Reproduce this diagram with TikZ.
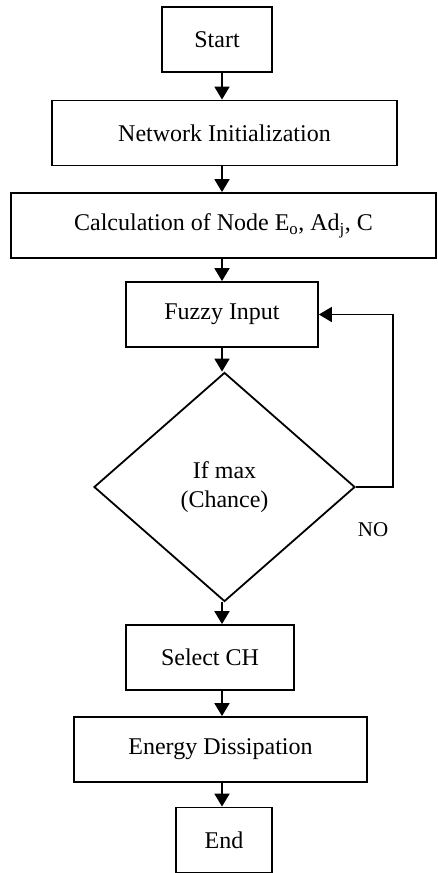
\documentclass[tikz,border=0pt]{standalone}
\usepackage{fontspec}
\setmainfont{Liberation Serif}
\usetikzlibrary{arrows.meta,shapes.geometric}

\begin{document}
\begin{tikzpicture}[x = 1pt, y = -1pt,
        box/.style = {draw, line width = 1.8pt, inner sep = 0pt,
                      minimum height = 65pt, font = \fontsize{24}{29}\selectfont},
        decision/.style = {draw, diamond, line width = 1.8pt, inner sep = 0pt,
                      align = center, font = \fontsize{24}{29}\selectfont},
        arr/.style = {line width = 1.8pt,
                      -{Triangle[width = 15pt, length = 13pt]}}]
            \useasboundingbox (0, 0) rectangle (437, 873);

            \node [box, minimum width = 110pt] (start) at (217, 39.5) {Start};
            \node [box, minimum width = 345pt] (init) at (224.5, 133)
                  {Network Initialization};
            \node [box, minimum width = 425pt] (calc) at (223.5, 225.5)
                  {Calculation of Node E\textsubscript{o}, Ad\textsubscript{j}, C};
            \node [box, minimum width = 192pt] (fuzzy) at (222, 314.5)
                  {Fuzzy Input};
            \node [decision, minimum width = 261pt, minimum height = 229pt]
                  (maxchance) at (224.5, 487) {If max\\(Chance)};
            \node [box, minimum width = 168pt] (selectch) at (210, 657.5)
                  {Select CH};
            \node [box, minimum width = 293pt] (energy) at (220.5, 749.5)
                  {Energy Dissipation};
            \node [box, minimum width = 96pt] (finish) at (224, 840) {End};

            \node [font = \fontsize{21}{25}\selectfont] (no) at (373, 530) {NO};

            \coordinate (axis) at (222, 0);
            \coordinate (loop) at (393, 400);

            \draw [arr] (start.south -| axis) -- (init.north -| axis);
            \draw [arr] (init.south -| axis) -- (calc.north -| axis);
            \draw [arr] (calc.south -| axis) -- (fuzzy.north -| axis);
            \draw [arr] (fuzzy.south -| axis) -- (maxchance.north -| axis);
            \draw [arr] (maxchance.south -| axis) -- (selectch.north -| axis);
            \draw [arr] (selectch.south -| axis) -- (energy.north -| axis);
            \draw [arr] (energy.south -| axis) -- (finish.north -| axis);

            \draw [arr] (maxchance.east) -| (loop) |- (fuzzy.east); % NO -> Fuzzy Input
\end{tikzpicture}
\end{document}
